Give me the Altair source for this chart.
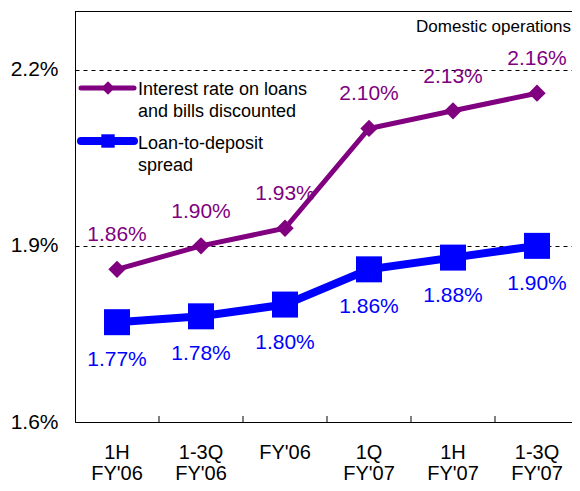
import altair as alt
import pandas as pd

categories = ["1H\nFY'06", "1-3Q\nFY'06", "FY'06", "1Q\nFY'07", "1H\nFY'07", "1-3Q\nFY'07"]
interest_rate = [1.86, 1.90, 1.93, 2.10, 2.13, 2.16]
spread = [1.77, 1.78, 1.80, 1.86, 1.88, 1.90]
y_ticks = [1.6, 1.9, 2.2]
legend_interest = "Interest rate on loans\nand bills discounted"
legend_spread = "Loan-to-deposit\nspread"
note = "Domestic operations"

PURPLE = "#800080"
BLUE = "#0000FF"
FONT = "Liberation Sans"
W, H = 497, 411       # visible view (page is 580 wide)
BAND_RANGE = 504      # x scale runs slightly past the visible right edge, as in the reference

df = pd.DataFrame({"cat": categories, "interest": interest_rate, "spread": spread})
ticks_df = pd.DataFrame({"cat": categories[1:]})

x_scale = alt.Scale(range=[0, BAND_RANGE], paddingInner=0, paddingOuter=0)
x_enc = alt.X("cat:N", sort=categories, scale=x_scale,
              axis=alt.Axis(title=None, labelAngle=0, ticks=False, domainColor="black",
                            labelFont=FONT, labelFontSize=20, labelColor="black",
                            labelPadding=20, labelLineHeight=21, labelBaseline="top",
                            labelExpr="split(datum.label, '\\n')"))
y_scale = alt.Scale(domain=[1.6, 2.3], nice=False, zero=False)
y_axis = alt.Axis(title=None, values=y_ticks, ticks=False, domainColor="black",
                  labelFont=FONT, labelFontSize=21, labelColor="black", labelPadding=17,
                  labelExpr="format(datum.value, '.1f') + '%'",
                  grid=True, gridDash=[4, 4], gridColor="black", gridWidth=1)

base = alt.Chart(df)
xc = alt.X("cat:N", sort=categories)

line_i = base.mark_line(color=PURPLE, strokeWidth=5).encode(
    x=x_enc, y=alt.Y("interest:Q", scale=y_scale, axis=y_axis))
pts_i = base.mark_point(shape="diamond", filled=True, opacity=1, color=PURPLE, size=300).encode(
    x=xc, y=alt.Y("interest:Q"))
lab_i = base.transform_calculate(t="format(datum.interest, '.2f') + '%'").mark_text(
    color=PURPLE, font=FONT, fontSize=21, dy=-34, baseline="middle").encode(
    x=xc, y=alt.Y("interest:Q"), text="t:N")

line_s = base.mark_line(color=BLUE, strokeWidth=8).encode(
    x=xc, y=alt.Y("spread:Q"))
pts_s = base.mark_point(shape="square", filled=True, opacity=1, color=BLUE, size=676).encode(
    x=xc, y=alt.Y("spread:Q"))
lab_s = base.transform_calculate(t="format(datum.spread, '.2f') + '%'").mark_text(
    color=BLUE, font=FONT, fontSize=21, dy=38, baseline="middle").encode(
    x=xc, y=alt.Y("spread:Q"), text="t:N")

ticks = alt.Chart(ticks_df).mark_rule(color="black", strokeWidth=1).encode(
    x=alt.X("cat:N", sort=categories, bandPosition=0), y=alt.value(H - 6), y2=alt.value(H))

top_border = alt.Chart(pd.DataFrame({"a": [0]})).mark_rule(color="black", strokeWidth=1).encode(
    x=alt.value(0), x2=alt.value(BAND_RANGE), y=alt.value(0.5))

note_txt = alt.Chart(pd.DataFrame({"t": [note]})).mark_text(
    font=FONT, fontSize=17, color="black", align="right", baseline="middle").encode(
    x=alt.value(W - 1), y=alt.value(16), text="t:N")

leg_df = pd.DataFrame({"t": [legend_interest, legend_spread]})
leg_line_i = alt.Chart(leg_df.iloc[[0]]).mark_rule(color=PURPLE, strokeWidth=5, strokeCap="round").encode(
    x=alt.value(6), x2=alt.value(59), y=alt.value(77))
leg_pt_i = alt.Chart(leg_df.iloc[[0]]).mark_point(shape="diamond", filled=True, opacity=1,
                                                   color=PURPLE, size=180).encode(
    x=alt.value(33), y=alt.value(77))
leg_txt_i = alt.Chart(leg_df.iloc[[0]]).mark_text(
    font=FONT, fontSize=18, color="black", align="left", baseline="middle", lineBreak="\n",
    lineHeight=22).encode(x=alt.value(63), y=alt.value(79), text="t:N")

leg_line_s = alt.Chart(leg_df.iloc[[1]]).mark_rule(color=BLUE, strokeWidth=8, strokeCap="round").encode(
    x=alt.value(6), x2=alt.value(59), y=alt.value(130))
leg_pt_s = alt.Chart(leg_df.iloc[[1]]).mark_point(shape="square", filled=True, opacity=1,
                                                   color=BLUE, size=180).encode(
    x=alt.value(33), y=alt.value(130))
leg_txt_s = alt.Chart(leg_df.iloc[[1]]).mark_text(
    font=FONT, fontSize=18, color="black", align="left", baseline="middle", lineBreak="\n",
    lineHeight=22).encode(x=alt.value(63), y=alt.value(133), text="t:N")

chart = alt.layer(
    line_i, line_s, pts_i, pts_s, lab_i, lab_s, ticks, top_border, note_txt,
    leg_line_i, leg_pt_i, leg_txt_i, leg_line_s, leg_pt_s, leg_txt_s
).properties(
    width=W, height=H,
    autosize=alt.AutoSizeParams(type="none"),
    padding={"left": 67, "top": 3, "right": 0, "bottom": 64},
).configure_view(stroke=None).configure(background="white")

chart.save("out.html", embed_options={"renderer": "svg", "actions": False})
